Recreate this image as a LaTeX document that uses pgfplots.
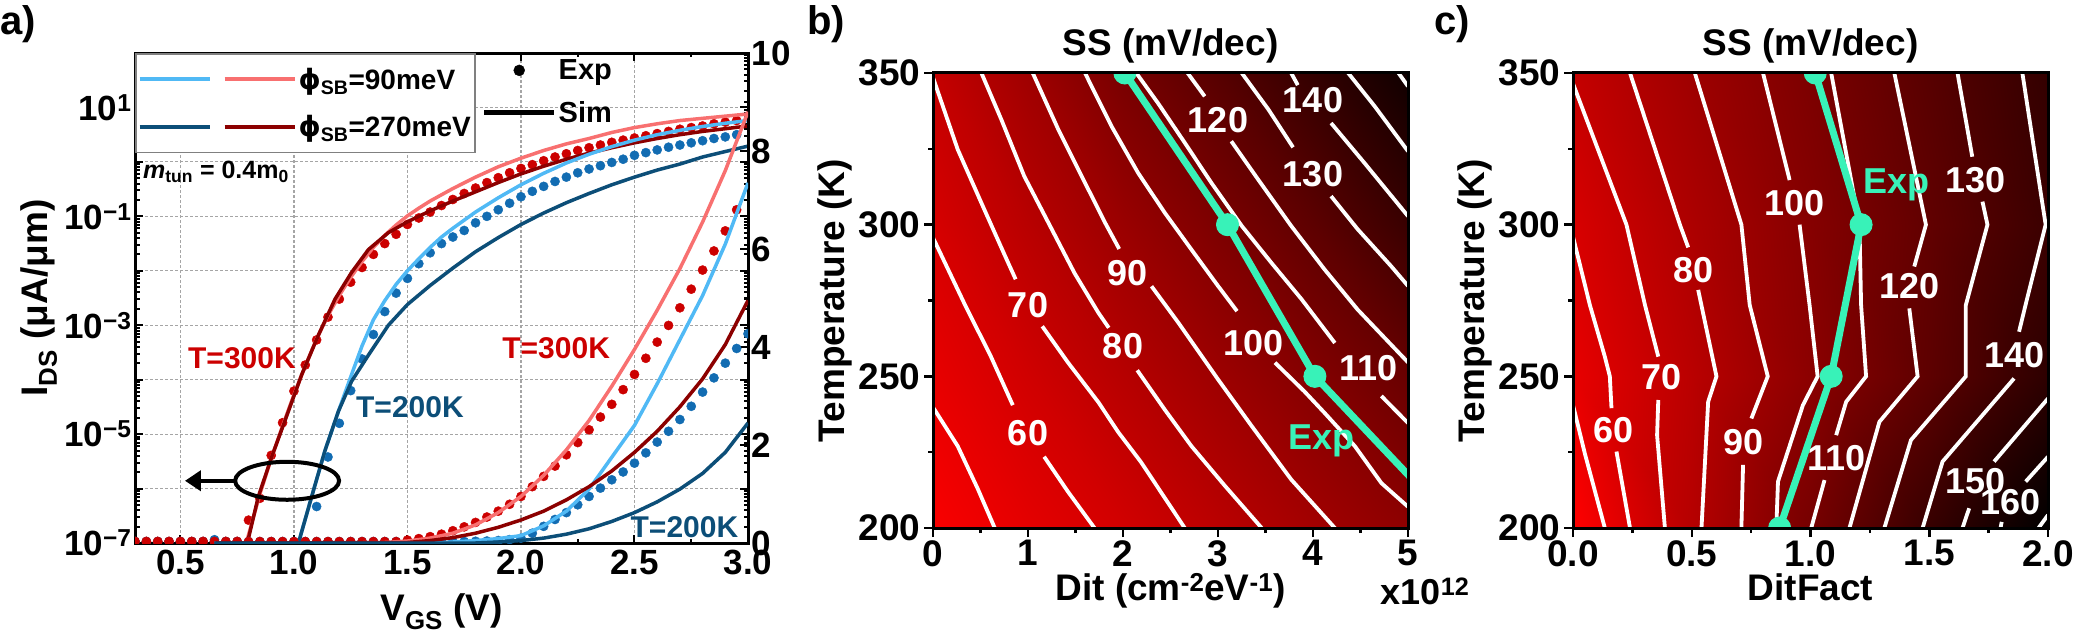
\documentclass[border=0pt]{standalone}
\usepackage{fontspec}
\setmainfont{Liberation Sans}
\newfontfamily\djv{DejaVu Sans}
\usepackage{pgfplots}
\pgfplotsset{compat=1.18}
\usetikzlibrary{arrows.meta}
\newcommand{\fsz}[1]{\fontsize{#1}{#1}\selectfont\bfseries}
\newcommand{\phisb}{{\djv\bfseries ϕ}\textsubscript{SB}}
\definecolor{lblue}{RGB}{80,185,245}
\definecolor{dblue}{RGB}{12,78,120}
\definecolor{lred}{RGB}{248,112,112}
\definecolor{dred}{RGB}{140,0,0}
\definecolor{rdot}{RGB}{204,0,0}
\definecolor{bdot}{RGB}{18,108,178}
\definecolor{tealx}{RGB}{56,242,184}
\definecolor{gridc}{RGB}{165,165,165}

\tikzset{
  contourline/.style={white, line width=3.8pt},
  clab/.style={text=white, font=\fsz{36}, inner sep=0pt},
}
\pgfplotsset{
  mapax/.style={
    anchor=south west, scale only axis,
    width=475pt, height=455pt,
    ymin=200, ymax=350,
    ytick={200,250,300,350}, minor y tick num=1,
    minor x tick num=1,
    tick align=outside, xtick pos=left, ytick pos=left,
    major tick length=9pt, minor tick length=5pt,
    every tick/.style={black, line width=2.5pt},
    axis line style={line width=3pt},
    axis on top,
    ticklabel style={font=\fsz{37}, /pgf/number format/assume math mode=true},
    title={SS (mV/dec)}, title style={font=\fsz{37}},
    ylabel={Temperature (K)}, label style={font=\fsz{37}},
    colormap={rk}{rgb255=(255,0,0) rgb255=(0,0,0)},
    point meta min=40, point meta max=170,
    clip marker paths=true,
  }
}

\begin{document}
\begin{tikzpicture}
\path[use as bounding box] (0,0) rectangle (2075pt,633pt);

% ---------------- panel a, left (log) axis
\begin{axis}[
  at={(135pt,90pt)}, anchor=south west, scale only axis,
  width=613pt, height=490pt,
  xmin=0.3, xmax=3.0, ymode=log, ymin=1e-7, ymax=1e2,
  xtick={0.5,1.0,1.5,2.0,2.5,3.0},
  xticklabels={0.5,1.0,1.5,2.0,2.5,3.0},
  minor x tick num=1,
  ytick={1e-7,1e-6,1e-5,1e-4,1e-3,1e-2,1e-1,1e0,1e1,1e2},
  yticklabels={10\textsuperscript{−7},,10\textsuperscript{−5},,10\textsuperscript{−3},,10\textsuperscript{−1},,10\textsuperscript{1},},
  tick align=inside, xtick pos=both, ytick pos=both,
  major tick length=8pt, minor tick length=4.5pt,
  every tick/.style={black, line width=2pt},
  axis line style={line width=3pt},
  grid=major, major grid style={densely dashed, gridc, line width=1.2pt},
  ticklabel style={font=\fsz{35}},
  xticklabel style={yshift=-4pt},
  xlabel={V\textsubscript{GS} (V)}, ylabel={I\textsubscript{DS} (μA/μm)},
  label style={font=\fsz{37}},
  xlabel style={yshift=-11pt},
  clip marker paths=true,
  legend style={at={(0,1)}, anchor=north west, draw=gray, line width=1.5pt, fill=white,
    font=\fsz{28}, row sep=21pt, inner xsep=2pt, inner ysep=12pt},
  legend cell align=left,
]
\addlegendimage{legend image code/.code={
  \draw[lblue, line width=3.8pt] (0pt,0pt) -- (70pt,0pt);
  \draw[lred, line width=3.8pt] (85pt,0pt) -- (155pt,0pt);}}
\addlegendentry{\phisb=90meV}
\addlegendimage{legend image code/.code={
  \draw[dblue, line width=3.8pt] (0pt,0pt) -- (70pt,0pt);
  \draw[dred, line width=3.8pt] (85pt,0pt) -- (155pt,0pt);}}
\addlegendentry{\phisb=270meV}

% experimental, 200 K (log)
\addplot[only marks, mark=*, mark size=4.6pt, bdot] coordinates {
(0.65,1.15e-7)(1.10,4.68e-7)(1.15,3.8e-6)(1.20,1.58e-5)(1.25,6.3e-5)(1.30,2.4e-4)(1.35,6.76e-4)
(1.40,1.78e-3)(1.45,3.89e-3)(1.50,7.24e-3)(1.55,1.35e-2)(1.60,2.14e-2)(1.65,3.16e-2)(1.70,4.17e-2)
(1.75,5.5e-2)(1.80,7.6e-2)(1.85,0.1)(1.90,0.132)(1.95,0.174)(2.00,0.229)(2.05,0.288)(2.10,0.355)
(2.15,0.437)(2.20,0.525)(2.25,0.631)(2.30,0.741)(2.35,0.851)(2.40,0.977)(2.45,1.12)(2.50,1.32)
(2.55,1.48)(2.60,1.66)(2.65,1.86)(2.70,2.04)(2.75,2.24)(2.80,2.45)(2.85,2.69)(2.90,2.88)(2.95,3.16)};
% experimental, 300 K (log)
\addplot[only marks, mark=*, mark size=4.6pt, rdot] coordinates {
(0.30,1.07e-7)(0.35,1.07e-7)(0.40,1.07e-7)(0.45,1.07e-7)(0.50,1.07e-7)(0.55,1.07e-7)(0.60,1.07e-7)
(0.65,1.07e-7)(0.70,1.07e-7)(0.75,1.07e-7)
(0.80,2.63e-7)(0.85,6.61e-7)(0.90,4.07e-6)(0.95,1.62e-5)(1.00,6.17e-5)(1.05,1.86e-4)(1.10,5.37e-4)
(1.15,1.41e-3)(1.20,3.02e-3)(1.25,6.17e-3)(1.30,1.15e-2)(1.35,2.0e-2)(1.40,3.16e-2)(1.45,4.68e-2)
(1.50,7.08e-2)(1.55,9.33e-2)(1.60,0.120)(1.65,0.158)(1.70,0.204)(1.75,0.263)(1.80,0.331)(1.85,0.417)
(1.90,0.513)(1.95,0.631)(2.00,0.759)(2.05,0.891)(2.10,1.05)(2.15,1.23)(2.20,1.41)(2.25,1.62)
(2.30,1.82)(2.35,2.04)(2.40,2.29)(2.45,2.51)(2.50,2.75)(2.55,3.02)(2.60,3.31)(2.65,3.63)(2.70,3.98)
(2.75,4.27)(2.80,4.57)(2.85,5.01)(2.90,5.37)(2.95,5.75)};
% simulation, log
\addplot[lred, line width=3.5pt] coordinates {
(0.79,1.0e-7)(0.85,7.9e-7)(0.90,3.55e-6)(0.95,1.41e-5)(1.00,5.25e-5)(1.05,1.78e-4)(1.10,5.62e-4)
(1.15,1.51e-3)(1.20,3.55e-3)(1.25,7.59e-3)(1.30,1.48e-2)(1.35,2.69e-2)(1.40,4.47e-2)(1.45,6.92e-2)
(1.50,0.102)(1.55,0.141)(1.60,0.191)(1.70,0.324)(1.80,0.525)(1.90,0.813)(2.00,1.17)(2.10,1.62)
(2.20,2.14)(2.30,2.69)(2.40,3.47)(2.50,4.27)(2.60,5.01)(2.70,5.75)(2.80,6.31)(2.90,6.92)(3.00,7.59)};
\addplot[dred, line width=3.5pt] coordinates {
(0.795,1e-7)(0.843,7.08e-7)(0.902,3.8e-6)(0.96,1.74e-5)(1.034,1.23e-4)(1.108,6.61e-4)(1.181,3.02e-3)
(1.254,9.33e-3)(1.328,2.45e-2)(1.416,5.01e-2)(1.50,7.94e-2)(1.60,0.126)(1.70,0.191)(1.80,0.282)
(1.90,0.417)(2.00,0.603)(2.10,0.832)(2.20,1.12)(2.30,1.45)(2.40,1.82)(2.50,2.24)(2.60,2.69)
(2.70,3.16)(2.80,3.63)(2.90,4.07)(3.00,4.57)};
\addplot[lblue, line width=3.5pt] coordinates {
(1.02,1e-7)(1.078,7.08e-7)(1.137,5.01e-6)(1.196,2.63e-5)(1.25,1.12e-4)(1.30,4.17e-4)(1.35,1.26e-3)
(1.40,2.82e-3)(1.45,5.62e-3)(1.50,1e-2)(1.55,1.66e-2)(1.60,2.69e-2)(1.65,4.17e-2)(1.70,6.03e-2)
(1.80,0.120)(1.90,0.219)(2.00,0.380)(2.10,0.617)(2.20,0.955)(2.30,1.38)(2.40,1.91)(2.50,2.51)
(2.60,3.16)(2.70,3.80)(2.80,4.47)(2.90,5.13)(3.00,5.75)};
\addplot[dblue, line width=3.5pt] coordinates {
(1.02,1e-7)(1.078,7.08e-7)(1.137,5.01e-6)(1.196,2.63e-5)(1.254,9.33e-5)(1.328,2.82e-4)(1.416,1e-3)
(1.50,2.4e-3)(1.60,5.37e-3)(1.70,1.12e-2)(1.80,2.24e-2)(1.90,4.07e-2)(2.00,7.08e-2)(2.10,0.115)
(2.20,0.178)(2.30,0.263)(2.40,0.380)(2.50,0.525)(2.60,0.708)(2.70,0.912)(2.80,1.23)(2.90,1.55)(3.00,1.95)};
\end{axis}

% ---------------- panel a, right (linear) axis
\begin{axis}[
  at={(135pt,90pt)}, anchor=south west, scale only axis,
  width=613pt, height=490pt,
  xmin=0.3, xmax=3.0, ymin=0, ymax=10,
  axis x line=none, axis y line*=right,
  ytick={0,2,4,6,8,10}, minor y tick num=1,
  tick align=inside,
  major tick length=8pt, minor tick length=4.5pt,
  every tick/.style={black, line width=2pt},
  axis line style={line width=3pt},
  ticklabel style={font=\fsz{35}, /pgf/number format/assume math mode=true},
  clip marker paths=true,
  legend style={at={(0.562,0.995)}, anchor=north west, draw=none, fill=none,
    font=\fsz{29}, row sep=16pt, inner sep=2pt},
  legend cell align=left,
]
\addlegendimage{legend image code/.code={
  \path[draw=none, fill=none] (0pt,0pt) -- (70pt,0pt); \fill[black] (35pt,0pt) circle (5.5pt);}}
\addlegendentry{Exp}
\addlegendimage{legend image code/.code={
  \draw[black, line width=5pt] (0pt,0pt) -- (70pt,0pt);}}
\addlegendentry{Sim}

\addplot[only marks, mark=*, mark size=4.6pt, bdot] coordinates {
(0.30,0.03)(0.35,0.03)(0.40,0.03)(0.45,0.03)(0.50,0.03)(0.55,0.03)(0.60,0.03)(0.65,0.03)(0.70,0.03)
(0.75,0.03)(0.80,0.03)(0.85,0.03)(0.90,0.03)(0.95,0.03)(1.00,0.03)(1.05,0.03)(1.10,0.03)(1.15,0.03)
(1.20,0.03)(1.25,0.03)(1.30,0.03)(1.35,0.03)(1.40,0.03)(1.45,0.03)(1.50,0.03)(1.55,0.03)(1.60,0.03)
(1.65,0.03)(1.70,0.03)(1.75,0.03)(1.80,0.035)(1.85,0.04)(1.90,0.05)(1.95,0.07)(2.00,0.10)
(2.05,0.20)(2.10,0.34)(2.15,0.48)(2.20,0.62)(2.25,0.78)(2.30,0.95)(2.35,1.12)(2.40,1.29)(2.45,1.45)
(2.50,1.63)(2.55,1.84)(2.60,2.06)(2.65,2.28)(2.70,2.52)(2.75,2.79)(2.80,3.08)(2.85,3.37)(2.90,3.67)
(2.95,3.97)(3.00,4.27)};
\addplot[only marks, mark=*, mark size=4.6pt, rdot] coordinates {
(0.30,0.03)(0.35,0.03)(0.40,0.03)(0.45,0.03)(0.50,0.03)(0.55,0.03)(0.60,0.03)(0.65,0.03)(0.70,0.03)
(0.75,0.03)(0.80,0.03)(0.85,0.03)(0.90,0.03)(0.95,0.03)(1.00,0.03)(1.05,0.03)(1.10,0.03)(1.15,0.03)
(1.20,0.03)(1.25,0.03)(1.30,0.03)(1.35,0.03)(1.40,0.03)(1.45,0.03)
(1.50,0.06)(1.55,0.09)(1.60,0.13)(1.65,0.18)(1.70,0.25)(1.75,0.33)(1.80,0.42)(1.85,0.53)(1.90,0.65)
(1.95,0.79)(2.00,0.95)(2.05,1.15)(2.10,1.36)(2.15,1.57)(2.20,1.80)(2.25,2.05)(2.30,2.31)(2.35,2.57)
(2.40,2.83)(2.45,3.13)(2.50,3.44)(2.55,3.77)(2.60,4.10)(2.65,4.44)(2.70,4.80)(2.75,5.18)(2.80,5.57)
(2.85,5.96)(2.90,6.37)(2.95,6.80)};
\addplot[lred, line width=3.5pt] coordinates {
(0.65,0)(1.2,0.0)(1.4,0.01)(1.5,0.04)(1.6,0.10)(1.7,0.20)(1.8,0.37)(1.9,0.62)(2.0,0.95)(2.1,1.38)
(2.2,1.90)(2.3,2.50)(2.4,3.20)(2.5,3.95)(2.6,4.75)(2.7,5.60)(2.8,6.55)(2.9,7.60)(3.0,8.80)};
\addplot[lblue, line width=3.5pt] coordinates {
(0.65,0)(1.6,0.0)(1.7,0.02)(1.8,0.05)(1.9,0.09)(2.0,0.15)(2.1,0.35)(2.2,0.65)(2.3,1.10)(2.4,1.75)
(2.5,2.40)(2.6,3.25)(2.7,4.15)(2.8,5.05)(2.9,6.10)(3.0,7.35)};
\addplot[dred, line width=3.5pt] coordinates {
(0.65,0)(1.5,0.01)(1.6,0.05)(1.7,0.11)(1.8,0.20)(1.9,0.32)(2.0,0.47)(2.1,0.65)(2.2,0.88)(2.3,1.15)
(2.4,1.47)(2.5,1.85)(2.6,2.28)(2.7,2.78)(2.8,3.35)(2.9,4.05)(3.0,4.95)};
\addplot[dblue, line width=3.5pt] coordinates {
(0.65,0)(1.8,0.0)(1.9,0.02)(2.0,0.05)(2.1,0.10)(2.2,0.18)(2.3,0.29)(2.4,0.44)(2.5,0.62)(2.6,0.84)
(2.7,1.10)(2.8,1.42)(2.9,1.85)(3.0,2.45)};

\node[anchor=west, font=\fsz{25}, inner sep=0pt] at (axis cs:0.335,7.57) {\textit{m}\textsubscript{tun} = 0.4m\textsubscript{0}};
\node[text=rdot, font=\fsz{30}] at (axis cs:0.771,3.78) {T=300K};
\node[text=dblue, font=\fsz{30}] at (axis cs:1.511,2.78) {T=200K};
\node[text=rdot, font=\fsz{30}] at (axis cs:2.155,3.98) {T=300K};
\node[text=dblue, font=\fsz{30}] at (axis cs:2.72,0.33) {T=200K};
\draw[line width=4pt] (axis cs:0.97,1.27) ellipse [x radius=52pt, y radius=19pt];
\draw[line width=4pt, -{Triangle[length=16pt,width=20pt]}] (axis cs:0.74,1.27) -- (axis cs:0.52,1.27);
\end{axis}

% ---------------- panel b
\begin{axis}[mapax,
  at={(933pt,105pt)},
  xmin=0, xmax=5, xtick={0,1,2,3,4,5},
  xlabel={Dit (cm\textsuperscript{-2}eV\textsuperscript{-1})},
]
\addplot[surf, shader=interp, mesh/rows=4, point meta=explicit] table[meta=c] {
x y c
0 200 43
1 200 53.5
2 200 63
3 200 75
4 200 87
5 200 98
0 250 52
1 250 64
2 250 77
3 250 90
4 250 103
5 250 117
0 300 61
1 300 76
2 300 91.5
3 300 106.6
4 300 122.5
5 300 141
0 350 70
1 350 89
2 350 109
3 350 126
4 350 144
5 350 162
};
\addplot[contourline] coordinates {(0,239.8)(0.26,227)(0.47,213)(0.65,200)};
\addplot[contourline] coordinates {(0,295.7)(0.33,274)(0.61,256.5)(0.84,240.5)};
\addplot[contourline] coordinates {(1.17,223.5)(1.42,212)(1.70,200)};
\addplot[contourline] coordinates {(0,348.5)(0.26,324.8)(0.54,305)(0.79,287.5)(0.87,282)};
\addplot[contourline] coordinates {(1.15,266.5)(1.42,254.6)(1.74,241.5)(1.95,231.6)(2.19,221.7)(2.65,200)};
\addplot[contourline] coordinates {(0.51,350)(0.72,334.6)(0.96,316)(1.25,298.5)(1.49,284)(1.74,271)(1.85,266)};
\addplot[contourline] coordinates {(2.15,252)(2.44,239)(2.72,227)(3.07,214)(3.46,200)};
\addplot[contourline] coordinates {(1.05,350)(1.32,331.3)(1.6,313.8)(1.81,300.7)(1.96,292)};
\addplot[contourline] coordinates {(2.3,279.7)(2.58,267.8)(3.0,249)(3.35,233.8)(3.77,216)(4.23,200)};
\addplot[contourline] coordinates {(1.6,350)(1.88,332.4)(2.16,317)(2.44,303.9)(2.72,291.8)(3.0,279.8)(3.2,271.5)};
\addplot[contourline] coordinates {(3.6,254.5)(3.91,245)(4.12,238)(4.44,227)(4.72,214.8)(5.0,207)};
\addplot[contourline] coordinates {(2.14,350)(2.37,340)(2.65,327)(2.93,313.8)(3.25,299.6)(3.56,287.5)(3.88,275.4)(4.23,261)};
\addplot[contourline] coordinates {(4.72,243.5)(5.0,234.6)};
\addplot[contourline] coordinates {(2.68,350)(2.86,342.3)};
\addplot[contourline] coordinates {(3.14,327.5)(3.42,315)(3.77,299.6)(4.12,285.3)(4.47,272)(5.0,254.6)};
\addplot[contourline] coordinates {(3.25,350)(3.53,338)(3.79,325.5)};
\addplot[contourline] coordinates {(4.19,309.4)(4.47,298.5)(4.82,286.4)(5.0,279.8)};
\addplot[contourline] coordinates {(3.77,350)(3.84,346)};
\addplot[contourline] coordinates {(4.19,333.5)(4.54,320.4)(5.0,302.8)};
\addplot[contourline] coordinates {(4.37,350)(4.65,339)(5.0,324.2)};
\addplot[contourline] coordinates {(4.9,350)(5.0,345.6)};
\node[clab] at (axis cs:1.0,231.3) {60};
\node[clab] at (axis cs:1.0,273.6) {70};
\node[clab] at (axis cs:2.0,259.9) {80};
\node[clab] at (axis cs:2.05,284) {90};
\node[clab] at (axis cs:3.37,261) {100};
\node[clab] at (axis cs:4.58,252.7) {110};
\node[clab] at (axis cs:3.0,334.6) {120};
\node[clab] at (axis cs:4.0,316.5) {130};
\node[clab] at (axis cs:4.0,341.2) {140};
\addplot[tealx, line width=7pt, mark=*, mark size=11pt, mark options={line width=1pt}] coordinates {
(2.02,350)(3.1,300)(4.02,250)(5.53,200)};
\node[text=tealx, font=\fsz{36}, inner sep=0pt] at (axis cs:4.09,228.6) {Exp};
\end{axis}

% ---------------- panel c
\begin{axis}[mapax,
  at={(1573pt,105pt)},
  xmin=0, xmax=2, xtick={0,0.5,1,1.5,2},
  xticklabels={0.0,0.5,1.0,1.5,2.0},
  xlabel={DitFact},
]
\addplot[surf, shader=interp, mesh/rows=4, point meta=explicit] table[meta=c] {
x y c
0 200 40
0.5 200 77.5
1 200 110
1.5 200 142
2 200 172
0 250 52
0.5 250 75.5
1 250 99
1.5 250 122.5
2 250 147
0 300 60
0.5 300 82
1 300 102
1.5 300 120.5
2 300 140
0 350 70
0.5 350 89.5
1 350 107
1.5 350 125.5
2 350 144
};
\addplot[contourline] coordinates {(0,240.5)(0.05,224.5)(0.134,200)};
\addplot[contourline] coordinates {(0,296)(0.071,273.5)(0.134,256.5)(0.155,250)(0.162,239.5)};
\addplot[contourline] coordinates {(0.183,225.2)(0.24,200)};
\addplot[contourline] coordinates {(0,346.5)(0.225,300)(0.303,273.5)(0.359,256.5)};
\addplot[contourline] coordinates {(0.359,242.2)(0.354,230.6)(0.387,200)};
\addplot[contourline] coordinates {(0.24,350)(0.45,300)(0.485,292.5)};
\addplot[contourline] coordinates {(0.527,278.5)(0.604,250)(0.569,241.6)(0.541,200)};
\addplot[contourline] coordinates {(0.513,350)(0.709,300)(0.744,273.5)(0.82,250)(0.751,236.1)};
\addplot[contourline] coordinates {(0.716,220.8)(0.709,200)};
\addplot[contourline] coordinates {(0.8,350)(0.912,314.7)};
\addplot[contourline] coordinates {(0.954,300)(0.996,273.5)(1.03,250)(0.968,240.5)(0.863,215.3)(0.856,200)};
\addplot[contourline] coordinates {(1.087,350)(1.206,300)(1.213,273.5)(1.234,250)(1.15,241.6)(1.108,230.6)};
\addplot[contourline] coordinates {(1.059,215.8)(1.003,200)};
\addplot[contourline] coordinates {(1.353,350)(1.486,300)(1.437,286.2)};
\addplot[contourline] coordinates {(1.416,272.4)(1.451,250)(1.29,235)(1.164,200)};
\addplot[contourline] coordinates {(1.619,350)(1.681,322.4)};
\addplot[contourline] coordinates {(1.724,307.6)(1.745,300)(1.654,273.5)(1.654,250)(1.423,229)(1.311,200)};
\addplot[contourline] coordinates {(1.892,350)(1.99,300)(1.91,275)(1.878,264.7)};
\addplot[contourline] coordinates {(1.857,249.3)(1.556,221.9)(1.472,200)};
\addplot[contourline] coordinates {(2.0,242.7)(1.773,221.9)};
\addplot[contourline] coordinates {(1.668,206.5)(1.64,200)};
\addplot[contourline] coordinates {(2.0,223.5)(1.906,215.3)};
\addplot[contourline] coordinates {(1.805,202)(1.80,200)};
\addplot[contourline] coordinates {(2.0,204.3)(1.96,200)};
\node[clab] at (axis cs:0.169,232.3) {60};
\node[clab] at (axis cs:0.373,249.9) {70};
\node[clab] at (axis cs:0.506,285.1) {80};
\node[clab] at (axis cs:0.716,228.4) {90};
\node[clab] at (axis cs:0.933,307) {100};
\node[clab] at (axis cs:1.108,223) {110};
\node[clab] at (axis cs:1.416,279.6) {120};
\node[clab] at (axis cs:1.696,314.7) {130};
\node[clab] at (axis cs:1.857,257) {140};
\node[clab] at (axis cs:1.696,215.3) {150};
\node[clab] at (axis cs:1.843,208.7) {160};
\addplot[tealx, line width=7pt, mark=*, mark size=11pt, mark options={line width=1pt}] coordinates {
(1.02,350)(1.213,300)(1.087,250)(0.87,200)};
\node[text=tealx, font=\fsz{36}, inner sep=0pt] at (axis cs:1.36,313.1) {Exp};
\end{axis}

% panel letters and multiplier
\node[font=\fsz{40}, inner sep=0pt] at (18pt,609pt) {a)};
\node[font=\fsz{40}, inner sep=0pt] at (826pt,609pt) {b)};
\node[font=\fsz{40}, inner sep=0pt] at (1452pt,609pt) {c)};
\node[font=\fsz{36}, inner sep=0pt] at (1425pt,42pt) {x10\textsuperscript{12}};
\end{tikzpicture}
\end{document}
